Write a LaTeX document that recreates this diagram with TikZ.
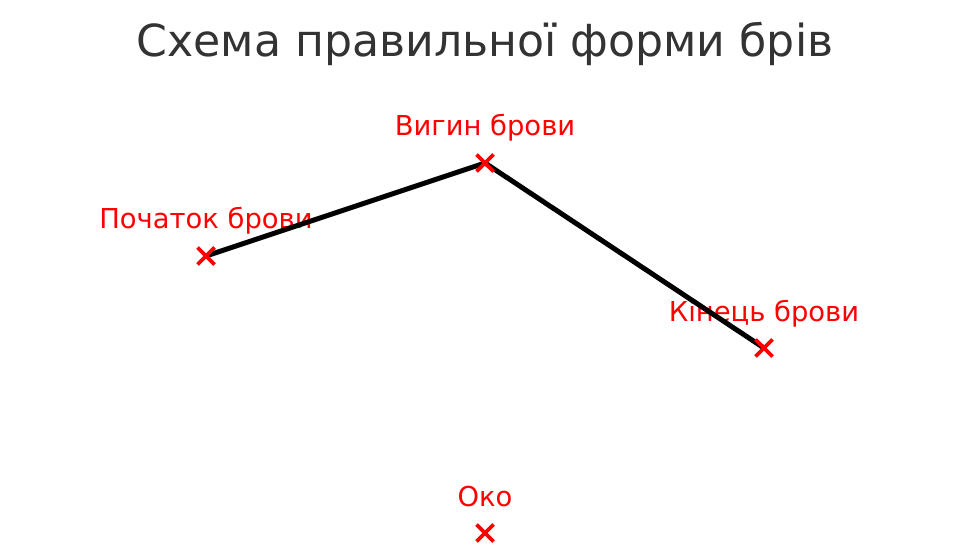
\documentclass[tikz,border=0pt]{standalone}
\usepackage{fontspec}
\setmainfont{DejaVu Sans}
\usetikzlibrary{calc}
\definecolor{titlegray}{HTML}{333333}
\begin{document}
\begin{tikzpicture}[x=1pt,y=-1pt,
  lbl/.style={text=red,font=\fontsize{27.4}{32}\selectfont,anchor=base,inner sep=0pt},
  xmark/.style={draw=red,line width=3.8pt},
  brow/.style={draw=black,line width=5pt}]
\useasboundingbox (0,0) rectangle (969,545);
\node[text=titlegray,font=\fontsize{44.2}{52}\selectfont,anchor=base,inner sep=0pt] (title) at (485,57) {Схема правильної форми брів};
\coordinate (p1) at (206,256);
\coordinate (p2) at (485,163);
\coordinate (p3) at (764,348);
\coordinate (p4) at (485,533);
\node[lbl] (l1) at (206,229) {Початок брови};
\node[lbl] (l2) at (485,136) {Вигин брови};
\node[lbl] (l3) at (764,321) {Кінець брови};
\node[lbl] (l4) at (485,506) {Око};
\draw[brow] (p1) -- (p2) -- (p3);
\foreach \p in {p1,p2,p3,p4}{
  \draw[xmark] ($(\p)+(-8.5,-8.5)$) -- ($(\p)+(8.5,8.5)$);
  \draw[xmark] ($(\p)+(-8.5,8.5)$) -- ($(\p)+(8.5,-8.5)$);
}
\end{tikzpicture}
\end{document}
